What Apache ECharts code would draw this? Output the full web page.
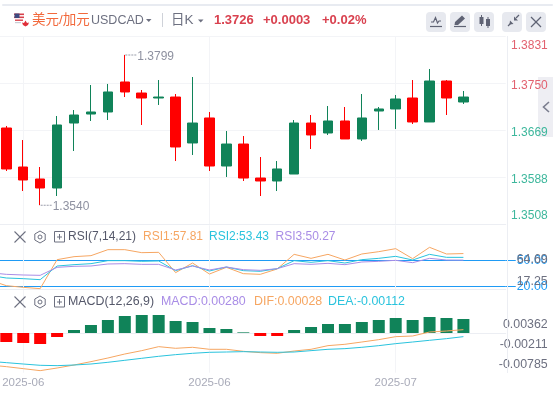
<!DOCTYPE html>
<html><head><meta charset="utf-8">
<style>html,body{margin:0;padding:0;background:#fff}#c{width:553px;height:394px}</style>
<script src="https://cdn.jsdelivr.net/npm/echarts@6/dist/echarts.min.js"></script>
</head><body><div id="c"></div>
<script>
const dates=['2025-05-29','2025-05-30','2025-06-02','2025-06-03','2025-06-04','2025-06-05','2025-06-06','2025-06-09','2025-06-10','2025-06-11','2025-06-12','2025-06-13','2025-06-16','2025-06-17','2025-06-18','2025-06-19','2025-06-20','2025-06-23','2025-06-24','2025-06-25','2025-06-26','2025-06-27','2025-06-30','2025-07-01','2025-07-02','2025-07-03','2025-07-04','2025-07-07','2025-07-08'];
const opens=[1.3660,1.3673,1.36058,1.35851,1.35696,1.36816,1.36971,1.37006,1.37523,1.37333,1.37247,1.37264,1.36472,1.36903,1.36075,1.36454,1.35868,1.35817,1.35937,1.36816,1.36644,1.36851,1.36541,1.37023,1.37058,1.37247,1.36834,1.3754,1.37178];
const closes=[1.3675,1.36024,1.35834,1.35696,1.36782,1.36954,1.37006,1.37351,1.37351,1.37247,1.37264,1.36403,1.36816,1.36075,1.36454,1.35868,1.35817,1.36024,1.36816,1.3661,1.36851,1.36541,1.36903,1.37058,1.3723,1.36834,1.3754,1.37247,1.37264];
const lows=[1.3650,1.35989,1.35644,1.3540,1.35558,1.36334,1.36851,1.36868,1.37264,1.36782,1.37127,1.36161,1.36265,1.35989,1.35886,1.35817,1.35558,1.35644,1.35937,1.36368,1.3661,1.36541,1.36506,1.36696,1.36713,1.36799,1.36834,1.36954,1.37144];
const highs=[1.3685,1.36765,1.36523,1.36058,1.36937,1.3704,1.37471,1.37489,1.3799,1.37385,1.37557,1.37316,1.37609,1.37006,1.36678,1.36592,1.3623,1.36161,1.36868,1.36954,1.37109,1.37092,1.37316,1.37092,1.37299,1.37557,1.37747,1.37557,1.37368];
const rsi1=[27.3,20.77,18.85,17.31,50.77,54.23,55.38,62.31,62.31,58.85,59.23,35.77,46.92,34.23,41.92,34.62,33.85,40,56.92,52.31,56.92,50.38,57.31,60,63.46,51.92,65,57.31,57.81];
const rsi2=[32.7,29.62,28.85,27.69,43.46,45,46.15,49.62,49.62,48.85,49.23,38.08,43.85,37.69,42.31,38.08,37.31,40.38,49.62,47.69,49.62,46.92,50.77,52.31,54.62,50.38,56.92,53.46,53.43];
const rsi3=[35.8,33.85,33.08,32.69,41.92,43.08,43.46,45.77,46.15,45.38,45.38,38.85,43.46,38.85,42.31,39.23,38.46,40.38,46.15,45.38,46.54,45,48.08,48.85,50,47.31,52.31,50.38,50.27];
const macdBars=[-0.0015,-0.0018,-0.0020,-0.0022,-0.0008,0.0006,0.0016,0.0026,0.0034,0.0036,0.0036,0.0024,0.0022,0.0010,0.0008,0.00013,-0.0006,-0.0006,0.0006,0.0012,0.0018,0.0018,0.0022,0.0026,0.0030,0.0026,0.0032,0.0030,0.0028];
const dif=[-0.00679,-0.00712,-0.00752,-0.00792,-0.00739,-0.00679,-0.00612,-0.00539,-0.00459,-0.00392,-0.00312,-0.00345,-0.00325,-0.00365,-0.00365,-0.00405,-0.00432,-0.00445,-0.00399,-0.00365,-0.00292,-0.00265,-0.00219,-0.00172,-0.00112,-0.00099,-0.00019,0.00001,0.00028];
const dea=[-0.00605,-0.00632,-0.00659,-0.00685,-0.00692,-0.00679,-0.00659,-0.00625,-0.00585,-0.00545,-0.00505,-0.00472,-0.00445,-0.00425,-0.00419,-0.00412,-0.00419,-0.00425,-0.00419,-0.00392,-0.00365,-0.00352,-0.00325,-0.00292,-0.00252,-0.00219,-0.00185,-0.00152,-0.00112];
const priceEdgeTicks=[1.3508,1.3831];
const priceMidTicks=[1.3588,1.3669,1.3750];
const priceGrid=[1.3507,1.3588,1.3669,1.3750,1.3831];
const rsiGuides=[20,50];
const rsiTicks=[17.25,40.97,64.69];
const macdTicks=[-0.00785,-0.00211,0.00362];

const FONT="'Liberation Sans','Noto Sans CJK SC',sans-serif";
const UP='#108359',DOWN='#ff0000',GRID='#f3f4f7',ORANGE='#f6a662',TEAL='#2ac3dd',PURPLE='#a98de6',BLUE='#1f9bf5';
const SLOT=16.93,LEFT=-19.09,W=SLOT*(dates.length+2);
const showIdx=i=>i%11===2;
const grids=[
 {left:LEFT,width:W,top:36.33,height:188,outerBoundsMode:'none'},
 {left:LEFT,width:W,top:225.3,height:64.7,outerBoundsMode:'none'},
 {left:LEFT,width:W,top:290,height:82.7,outerBoundsMode:'none'}
];
const cats=dates.concat(['','']);
function xa(g,labels){return {type:'category',gridIndex:g,data:cats,boundaryGap:true,
 axisLine:{show:true,lineStyle:{color:'#eceef3',width:1}},axisTick:{show:false},
 splitLine:{show:true,alignWithLabel:true,interval:(i)=>showIdx(i),lineStyle:{color:GRID,width:1}},
 axisLabel:{show:labels,interval:(i)=>showIdx(i),margin:4,color:'#a9abb9',fontSize:11.5,fontFamily:FONT,formatter:v=>v.slice(0,7)}};}
function ya(g,min,max,ticks,fmt,color){return {type:'value',gridIndex:g,position:'right',min,max,scale:true,
 axisLine:{show:false},axisTick:{show:false,customValues:ticks},splitLine:{show:false},
 axisLabel:{show:true,customValues:ticks,formatter:fmt,color,align:'right',margin:42,fontSize:12.4,fontFamily:FONT,showMinLabel:true,showMaxLabel:true,padding:[2,0,0,0]}};}

const priceCol=v=>v>=1.3700?'#e2616f':'#3db79c';
const fmt4=v=>v.toFixed(4),fmt2=v=>v.toFixed(2),fmt5=v=>v.toFixed(5);
const yAxes=[
 (()=>{const a=ya(0,1.3507,1.3831,priceEdgeTicks,fmt4,priceCol);
   a.axisTick.customValues=priceGrid;
   a.splitLine={show:true,lineStyle:{color:GRID,width:1}};
   a.axisLabel.fontSize=12;a.axisLabel.padding=[1,0,0,0];a.axisLabel.lineHeight=16;a.axisLabel.verticalAlignMaxLabel='top';a.axisLabel.verticalAlignMinLabel='bottom';
   return a;})(),
 (()=>{const a=ya(1,15.77,90.42,rsiGuides,fmt2,BLUE);
   a.axisTick={show:true,inside:false,length:10,customValues:rsiGuides,lineStyle:{color:BLUE,width:1}};
   a.splitLine={show:true,lineStyle:{color:BLUE,width:1}};
   return a;})(),
 ya(1,-0.9,140.55,rsiTicks,fmt2,'#6d7080'),
 (()=>{const a=ya(2,-0.00794,0.0086,[],fmt5,'#6d7080');a.axisLabel.show=false;return a;})(),
 (()=>{const a=ya(2,-0.00833,0.00821,[],fmt5,'#6d7080');a.axisLabel.show=false;return a;})(),
 ya(2,-0.01026,0.01345,macdTicks,fmt5,'#6d7080'),
 (()=>{const a=ya(0,1.35105,1.38345,priceMidTicks,fmt4,priceCol);a.axisLabel.fontSize=12;a.axisLabel.padding=0;return a;})()
];
const line=(name,data,color,xi,yi)=>({name,type:'line',data,xAxisIndex:xi,yAxisIndex:yi,symbol:'none',smooth:false,lineStyle:{color,width:1},itemStyle:{color},silent:true,animation:false});

const leader='path://M0 0h2v1H0zM3 0h2v1H3zM6 0h2v1H6zM9 0h2v1H9z';
const hi=Math.max(...highs),lo=Math.min(...lows);
const mpLabel={show:true,position:'right',distance:1,color:'#8e91a0',fontSize:12,fontFamily:FONT,formatter:p=>p.value.toFixed(4)};
const series=[
 {type:'candlestick',xAxisIndex:0,yAxisIndex:0,barWidth:10,
  data:dates.map((_,i)=>[opens[i],closes[i],lows[i],highs[i]]),
  itemStyle:{color:UP,color0:DOWN,borderColor:UP,borderColor0:DOWN,borderWidth:1},
  markPoint:{animation:false,silent:true,symbol:leader,symbolSize:[11,1],itemStyle:{color:'#9a9daa'},
   data:[
    {coord:[dates[highs.indexOf(hi)],hi],value:hi,symbolOffset:[6,0],label:Object.assign({},mpLabel,{offset:[0,2]})},
    {coord:[dates[lows.indexOf(lo)],lo],value:lo,symbolOffset:[6,0],label:Object.assign({},mpLabel,{offset:[0,2]})}
   ]}},
 line('RSI1',rsi1,ORANGE,1,1),
 line('RSI2',rsi2,TEAL,1,1),
 line('RSI3',rsi3,PURPLE,1,1),
 {name:'MACD',type:'bar',xAxisIndex:2,yAxisIndex:3,data:macdBars,barWidth:12,itemStyle:{color:p=>p.value>=0?UP:DOWN}},
 line('DIF',dif,ORANGE,2,4),
 line('DEA',dea,TEAL,2,4)
];

const g=[];
const T=(text,x,y,fill,size,opt)=>g.push({type:'text',z:10,style:{text,x,y,fill,font:(opt&&opt.bold?'bold ':'')+size+'px '+FONT,textVerticalAlign:'middle',textAlign:(opt&&opt.align)||'left'}});
const R=(x,y,w,h,fill,r,z)=>g.push({type:'rect',z:z===undefined?5:z,shape:{x,y,width:w,height:h,r:r||0},style:{fill}});
const L=(x1,y1,x2,y2,c,w)=>g.push({type:'line',z:11,shape:{x1,y1,x2,y2},style:{stroke:c,lineWidth:w||1}});
const P=(pts,c,w)=>g.push({type:'polyline',z:11,shape:{points:pts},style:{stroke:c,lineWidth:w||1,fill:null}});
const TRI=(x,y,c)=>g.push({type:'polygon',z:11,shape:{points:[[x,y],[x+5.5,y],[x+2.75,y+3]]},style:{fill:c}});
const CIRC=(x,y,r,fill,stroke)=>g.push({type:'circle',z:11,shape:{cx:x,cy:y,r},style:{fill:fill||null,stroke:stroke||null}});
R(2,4,551,2,'#e8ebf1',1);
CIRC(19,18,5.5,'#ffffff');
R(14,13.5,10,1.6,'#d8404a',0,12);R(14,16.5,10,1.6,'#d8404a',0,12);R(15,19.5,8,1.4,'#d8404a',0,12);
R(14.5,13.5,5,4.5,'#3d4a80',0,13);
R(15,22,6,1.2,'#c9ccd4',0,12);
g.push({type:'polygon',z:13,shape:{points:[[25.5,20.5],[27,23],[29,22.5],[28,25],[25.5,26.5],[23,25],[22,22.5],[24,23]]},style:{fill:'#e0303a'}});
T('美元/加元',32,20,'#f2693c',13.5);
T('USDCAD',91,20.5,'#6d7080',12.5);
TRI(146,19,'#6d7080');
L(162.5,13,162.5,27,'#cfd2d9');
T('日K',171,20,'#6d7080',13.5);
TRI(198,19.5,'#6d7080');
T('1.3726',214,20,'#d9414f',13,{bold:true});
T('+0.0003',263,20,'#d9414f',13,{bold:true});
T('+0.02%',322,20,'#d9414f',13,{bold:true});
[426,450,474,502,526].forEach(x=>R(x,12,20,20,'#e7e9ef',4));
const ic='#5f6374';
P([[431,22],[433.5,22],[435.5,17.5],[437.5,23],[439,21],[441,21]],ic,1.2);L(430,26.5,442,26.5,ic,1.2);
g.push({type:'polygon',z:11,shape:{points:[[454.5,25],[455,22],[462,15.5],[465,18.5],[458,25]]},style:{fill:ic}});L(454,26.5,466,26.5,ic,1.2);
R(479.5,17,4,7,ic,0,11);L(481.5,15,481.5,26,ic);R(486,19,4,7,ic,0,11);L(488,17,488,28,ic);
L(508,26,511,23,ic,1.3);L(516,18,519,15,ic,1.3);g.push({type:'polygon',z:11,shape:{points:[[510,20.5],[513.5,24],[509.5,24.5]]},style:{fill:ic}});g.push({type:'polygon',z:11,shape:{points:[[514,16.5],[518,20.5],[514,20.5]]},style:{fill:ic}});
L(531,17,541,27,ic,1.2);L(541,17,531,27,ic,1.2);
R(538,77,15,60,'#eeeef3',0,-1);
g.push({type:'polyline',z:21,shape:{points:[[549,102],[543.5,107],[549,112]]},style:{stroke:'#7a7d8e',lineWidth:1.6,fill:null}});
function row(y){
 const c='#6d7080';
 L(14.5,y-5.5,25.5,y+5.5,c,1.1);L(25.5,y-5.5,14.5,y+5.5,c,1.1);
 g.push({type:'polygon',z:11,shape:{points:[[40,y-6],[45.2,y-3],[45.2,y+3],[40,y+6],[34.8,y+3],[34.8,y-3]]},style:{fill:null,stroke:c,lineWidth:1}});
 CIRC(40,y,2,null,c);
 g.push({type:'rect',z:11,shape:{x:54.5,y:y-5.5,width:10,height:10.5},style:{fill:null,stroke:c,lineWidth:1}});
 L(59.5,y-3,59.5,y+2.5,c);L(57,y,62,y,c);
}
row(237);row(302);
T('RSI(7,14,21)',68,237,'#55586a',12);
T('RSI1:57.81',143,237,ORANGE,12);
T('RSI2:53.43',209,237,TEAL,12);
T('RSI3:50.27',275.5,237,PURPLE,12);
T('MACD(12,26,9)',68,302,'#55586a',12.4);
T('MACD:0.00280',161,302,PURPLE,12.4);
T('DIF:0.00028',254,302,ORANGE,12.4);
T('DEA:-0.00112',328,302,TEAL,12.4);
L(507.5,36,507.5,373,'#eceef3');

const chart=echarts.init(document.getElementById('c'),null,{renderer:'canvas'});
chart.setOption({animation:false,backgroundColor:'#fff',grid:grids,
 xAxis:[xa(0,false),xa(1,false),xa(2,true)],yAxis:yAxes,series,graphic:{elements:g}});
</script></body></html>
